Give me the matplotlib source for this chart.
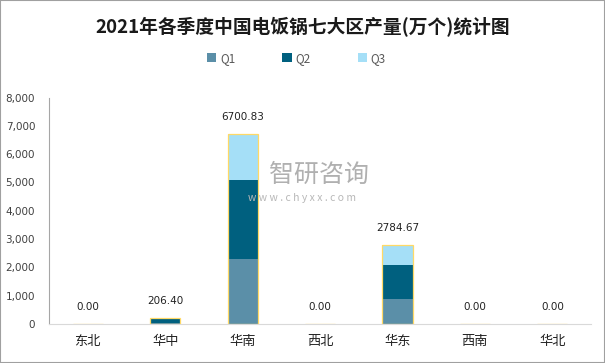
import matplotlib.pyplot as plt
from matplotlib.patches import Rectangle
import numpy as np

plt.rcParams['font.family'] = ['Noto Sans CJK SC', 'DejaVu Sans']

regions = ['东北', '华中', '华南', '西北', '华东', '西南', '华北']
q1 = [0, 20, 2290, 0, 875, 0, 0]
q2 = [0, 150, 2797, 0, 1205, 0, 0]
q3 = [0, 36.4, 1613.83, 0, 704.67, 0, 0]
totals = [0.00, 206.40, 6700.83, 0.00, 2784.67, 0.00, 0.00]
series = ['Q1', 'Q2', 'Q3']
colors = ['#5B8FA8', '#00607F', '#A5DFF7']

fig = plt.figure(figsize=(6.05, 3.63), dpi=100)
ax = fig.add_axes([0.081, 0.108, 0.896, 0.623])

x = np.arange(len(regions))
bottom = np.zeros(len(regions))
for vals, c, name in zip([q1, q2, q3], colors, series):
    ax.bar(x, vals, 0.39, bottom=bottom, color=c, linewidth=0,
           label=name, zorder=2)
    bottom += np.array(vals)
# gold outline round each stack
ax.bar(x, totals, 0.39, fill=False, edgecolor='#FFD966', linewidth=0.9, zorder=3)

for xi, t in zip(x, totals):
    ax.text(xi, t + 420, f'{t:.2f}', ha='center', va='bottom', fontsize=7.5,
            color='#222222', family='DejaVu Sans')

ax.set_xlim(-0.5, len(regions) - 0.5)
ax.set_ylim(0, 8000)
ax.set_yticks(range(0, 8001, 1000))
ax.set_yticklabels([f'{v:,}' for v in range(0, 8001, 1000)], fontsize=7.5,
                   color='#404040', family='DejaVu Sans')
ax.set_xticks(x)
ax.set_xticklabels(regions, fontsize=9.5, color='#222222')
ax.tick_params(length=0, pad=8)
ax.tick_params(axis='y', pad=10)
for s in ['top', 'right']:
    ax.spines[s].set_visible(False)
ax.spines['left'].set_color('#A6A6A6')
ax.spines['bottom'].set_color('#D9D9D9')
ax.spines['left'].set_linewidth(0.8)

fig.text(0.5, 0.925, '2021年各季度中国电饭锅七大区产量(万个)统计图', ha='center',
         va='center', fontsize=13.5, fontweight='bold', color='#1a1a1a')

leg = fig.legend(loc='center', bbox_to_anchor=(0.49, 0.84), ncol=3, frameon=False,
                 fontsize=8.5, handlelength=0.8, handleheight=0.8, columnspacing=4.0,
                 handletextpad=0.3)
for t in leg.get_texts():
    t.set_color('#595959')

# watermark
fig.text(0.527, 0.518, '智研咨询', fontsize=18, color='#B0B0B0', ha='center', va='center',
         bbox=dict(facecolor='white', edgecolor='none', pad=0))
fig.text(0.50, 0.455, 'w w w . c h y x x . c o m', fontsize=7.5, color='#B8B8B8',
         ha='center', va='center')

fig.patches.append(Rectangle((0, 0), 1, 1, transform=fig.transFigure, fill=False,
                             edgecolor='#A0A0A0', linewidth=1.5))

fig.savefig('out.png', dpi=100)
